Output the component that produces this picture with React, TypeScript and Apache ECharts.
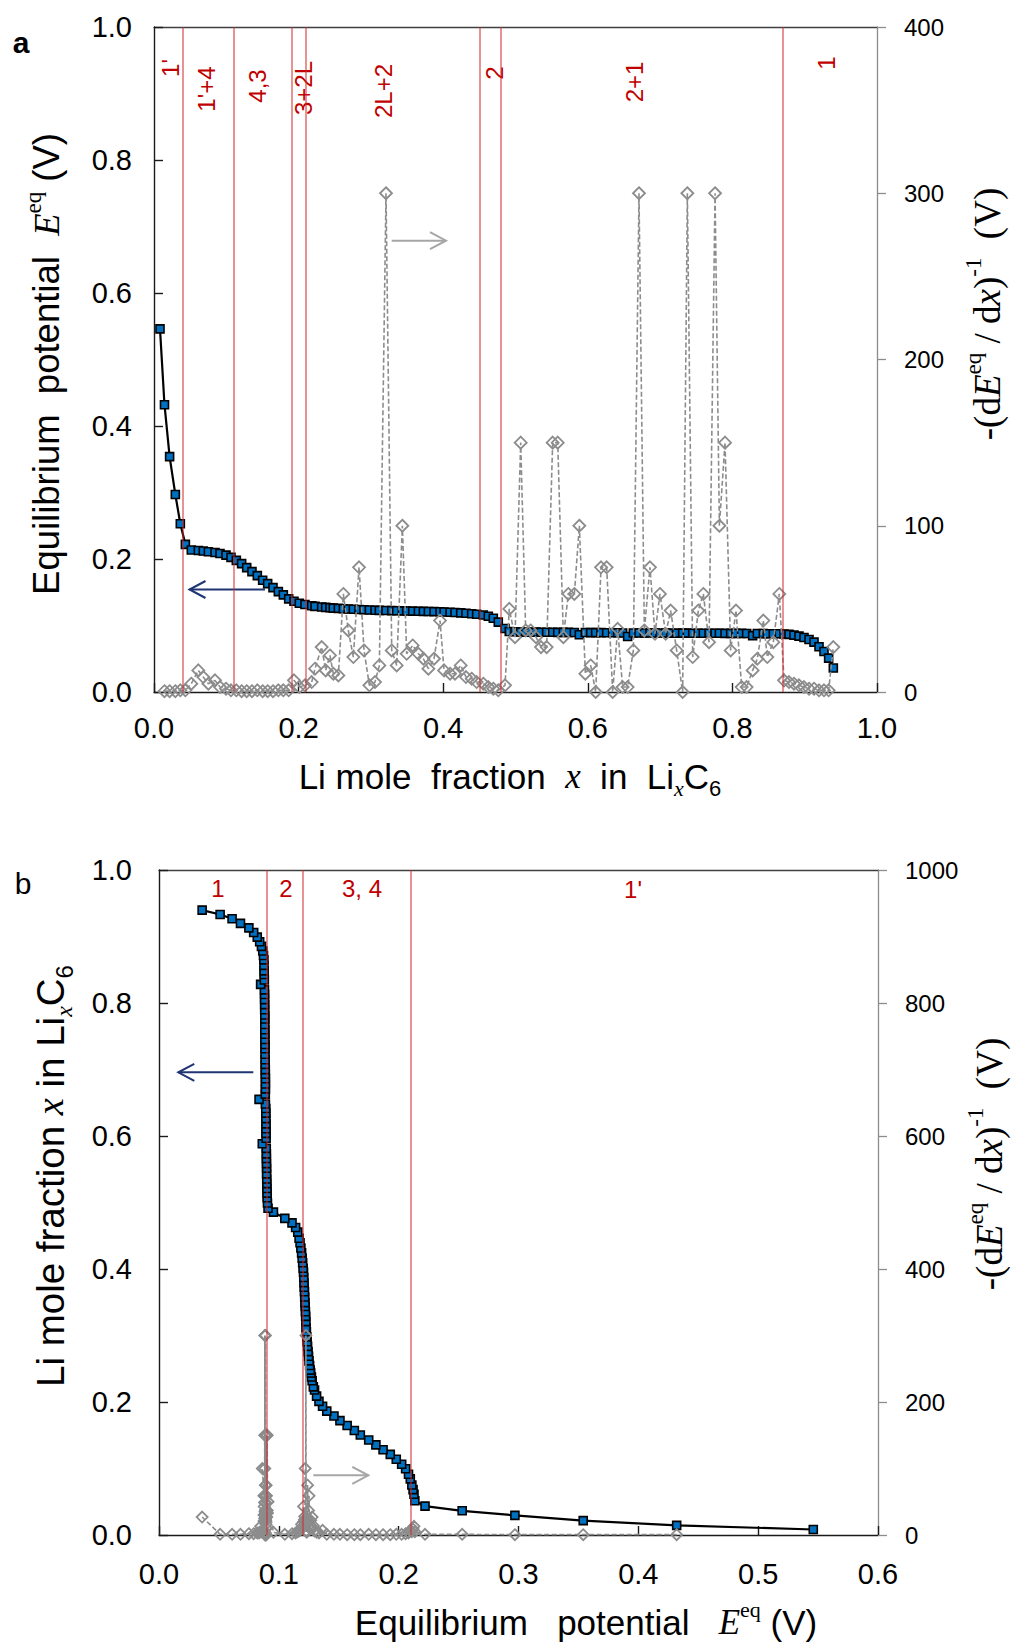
import React, { useEffect, useRef } from 'react';
import * as echarts from 'echarts';

// Li mole fraction x in LixC6 for each equilibrium point
const moleFraction = [
  0.0083, 0.0145, 0.0216, 0.0295, 0.0364, 0.0434, 0.0516, 0.0613, 0.0682, 0.0752,
  0.0844, 0.0913, 0.0996, 0.1065, 0.1139, 0.1212, 0.1282, 0.1355, 0.1429, 0.1503,
  0.1572, 0.1646, 0.1720, 0.1789, 0.1863, 0.1936, 0.2010, 0.2088, 0.2181, 0.2227,
  0.2319, 0.2375, 0.2434, 0.2480, 0.2550, 0.2619, 0.2688, 0.2757, 0.2836, 0.2905,
  0.2979, 0.3057, 0.3117, 0.3209, 0.3288, 0.3357, 0.3435, 0.3495, 0.3578, 0.3657,
  0.3726, 0.3795, 0.3873, 0.3956, 0.4012, 0.4095, 0.4163, 0.4242, 0.4315, 0.4394,
  0.4463, 0.4555, 0.4624, 0.4693, 0.4762, 0.4855, 0.4914, 0.4993, 0.5072, 0.5141,
  0.5210, 0.5284, 0.5353, 0.5431, 0.5514, 0.5584, 0.5662, 0.5731, 0.5814, 0.5883,
  0.5966, 0.6040, 0.6109, 0.6183, 0.6261, 0.6344, 0.6413, 0.6482, 0.6551, 0.6630,
  0.6708, 0.6782, 0.6860, 0.6929, 0.6998, 0.7077, 0.7146, 0.7229, 0.7312, 0.7377,
  0.7451, 0.7529, 0.7598, 0.7677, 0.7760, 0.7820, 0.7898, 0.7976, 0.8050, 0.8128,
  0.8197, 0.8280, 0.8345, 0.8428, 0.8483, 0.8566, 0.8649, 0.8714, 0.8783, 0.8852,
  0.8921, 0.8990, 0.9060, 0.9129, 0.9198, 0.9267, 0.9331, 0.9396,
];

// Equilibrium potential E_eq (V) at each mole fraction
const eqPotential = [
  0.546, 0.432, 0.354, 0.297, 0.253, 0.222, 0.2135, 0.2128, 0.2120, 0.2110,
  0.2097, 0.2082, 0.2058, 0.2025, 0.1980, 0.1930, 0.1870, 0.1810, 0.1750, 0.1680,
  0.1630, 0.1570, 0.1510, 0.1460, 0.1400, 0.1365, 0.1335, 0.1315, 0.1298, 0.1288,
  0.1278, 0.1272, 0.1266, 0.1262, 0.1257, 0.1252, 0.1248, 0.1244, 0.1240, 0.1236,
  0.1233, 0.1230, 0.1227, 0.1226, 0.1224, 0.1222, 0.1220, 0.1218, 0.1216, 0.1214,
  0.1212, 0.1210, 0.1208, 0.1206, 0.1203, 0.1199, 0.1195, 0.1190, 0.1184, 0.1177,
  0.1169, 0.1158, 0.1140, 0.1110, 0.1050, 0.0955, 0.0910, 0.0905, 0.0903, 0.0902,
  0.0901, 0.0900, 0.0899, 0.0898, 0.0898, 0.0897, 0.0896, 0.0896, 0.0895, 0.0862,
  0.0894, 0.0893, 0.0893, 0.0893, 0.0892, 0.0892, 0.0891, 0.0888, 0.0835, 0.0887,
  0.0888, 0.0888, 0.0888, 0.0887, 0.0887, 0.0886, 0.0886, 0.0885, 0.0885, 0.0885,
  0.0884, 0.0884, 0.0883, 0.0883, 0.0883, 0.0883, 0.0882, 0.0882, 0.0881, 0.0881,
  0.0880, 0.0848, 0.0879, 0.0878, 0.0877, 0.0876, 0.0875, 0.0872, 0.0866, 0.0855,
  0.0840, 0.0820, 0.0790, 0.0750, 0.0680, 0.0610, 0.0510, 0.0360,
];

// -(dE_eq/dx)^-1 (V), one value per interval, assigned to points 1..n-1
const inverseSlope = [
  0.5, 0.5, 0.5, 1, 1, 5, 13, 9, 5, 7,
  3, 2, 1, 1, 0.5, 0.5, 0.5, 1, 0.5, 0.5,
  0.5, 1, 1, 1, 7, 3, 4, 6, 14, 27,
  13, 22, 11, 10, 59, 37, 21, 75, 25, 4,
  6, 16, 300, 25, 16, 100, 23, 28, 23, 20,
  14, 20, 43, 13, 11, 11, 16, 9, 8, 6,
  5, 3, 2, 1, 4, 50, 33, 150, 37, 37,
  33, 27, 27, 150, 150, 33, 59, 59, 100, 11,
  16, 0, 75, 75, 0, 38, 3, 3, 25, 300,
  37, 75, 35, 59, 35, 49, 25, 0, 300, 21,
  49, 59, 30, 300, 100, 150, 25, 49, 3, 3,
  13, 20, 43, 21, 30, 59, 7, 6, 5, 4,
  3, 2, 2, 1, 1, 1, 27,
];

// Stage boundaries: in x (panel a) and in E_eq (panel b)
const boundariesX = [0.041, 0.107, 0.193, 0.2125, 0.453, 0.482, 0.873];
const boundariesE = [0.0874, 0.1215, 0.2092];

const stageNamesA = ["1'", "1'+4", '4,3', '3+2L', '2L+2', '2', '2+1', '1'];
const stageNamesB = ['1', '2', '3, 4', "1'"];

// layout of the stage names (pixel centres)
const stageNamePosA = [
  [170, 68], [206, 89], [257, 86], [303, 88], [383, 91], [494, 73], [634, 82], [826, 63],
];
const stageNamePosB = [[218, 888], [286, 888], [362, 888], [633, 889]];

const SANS = 'Liberation Sans';
const SERIF = 'Liberation Serif';
const RED_LINE = 'rgba(210, 40, 40, 0.5)';
const RED_TEXT = '#c00000';
const NAVY = '#1f3473';
const GREY = '#8c8c8c';
const ARROW_GREY = '#a6a6a6';

const richStyles = (size: number) => {
  const small = Math.round(size * 0.62);
  const lh = Math.round(size * 1.35);
  return {
    t: { fontFamily: SANS, fontSize: size, lineHeight: lh, fill: '#000' },
    r: { fontFamily: SERIF, fontSize: size, lineHeight: lh, fill: '#000' },
    e: { fontFamily: SERIF, fontStyle: 'italic', fontSize: size, lineHeight: lh, fill: '#000' },
    sup: { fontFamily: SERIF, fontSize: small, lineHeight: small, verticalAlign: 'top', fill: '#000' },
    sub: { fontFamily: SANS, fontSize: small, lineHeight: small, verticalAlign: 'bottom', fill: '#000' },
    subi: { fontFamily: SERIF, fontStyle: 'italic', fontSize: small, lineHeight: small, verticalAlign: 'bottom', fill: '#000' },
  };
};

const titleText = (text: string, x: number, y: number, size: number, rotate: boolean) => ({
  type: 'text',
  x,
  y,
  rotation: rotate ? Math.PI / 2 : 0,
  silent: true,
  style: { text, rich: richStyles(size), align: 'center', verticalAlign: 'middle' },
});

const arrow = (x1: number, x2: number, y: number, color: string) => {
  const dir = x2 > x1 ? 1 : -1;
  return [
    { type: 'line', silent: true, shape: { x1, y1: y, x2, y2: y }, style: { stroke: color, lineWidth: 2 } },
    {
      type: 'polyline',
      silent: true,
      shape: { points: [[x2 - dir * 16, y - 8.5], [x2, y], [x2 - dir * 16, y + 8.5]] },
      style: { stroke: color, lineWidth: 2, fill: 'none' },
    },
  ];
};

const fmt1 = (v: number) => v.toFixed(1);

const leftAxis = (gridIndex: number, margin: number) => ({
  type: 'value', gridIndex, min: 0, max: 1, interval: 0.2, position: 'left',
  axisLine: { show: true, onZero: false, lineStyle: { color: '#1a1a1a', width: 1.4 } },
  axisTick: { show: true, inside: true, length: 9, lineStyle: { color: '#1a1a1a', width: 1.4 } },
  axisLabel: { formatter: fmt1, fontFamily: SANS, fontSize: 29, color: '#000', margin },
  splitLine: { show: false },
});

const rightAxis = (gridIndex: number, max: number, interval: number) => ({
  type: 'value', gridIndex, min: 0, max, interval, position: 'right',
  axisLine: { show: true, onZero: false, lineStyle: { color: '#8c8c8c', width: 1.3 } },
  axisTick: { show: true, inside: false, length: 9, lineStyle: { color: '#8c8c8c', width: 1.3 } },
  axisLabel: { formatter: (v: number) => String(v), fontFamily: SANS, fontSize: 24, color: '#000', margin: 27 },
  splitLine: { show: false },
});

const bottomAxis = (gridIndex: number, max: number, interval: number, margin: number) => ({
  type: 'value', gridIndex, min: 0, max, interval, position: 'bottom',
  axisLine: { show: true, onZero: false, lineStyle: { color: '#1a1a1a', width: 1.4 } },
  axisTick: { show: true, inside: true, length: 9, lineStyle: { color: '#1a1a1a', width: 1.4 } },
  axisLabel: { formatter: fmt1, fontFamily: SANS, fontSize: 29, color: '#000', margin },
  splitLine: { show: false },
});

const topBorder = (gridIndex: number, max: number) => ({
  type: 'value', gridIndex, min: 0, max, position: 'top',
  axisLine: { show: true, onZero: false, lineStyle: { color: '#404040', width: 1.3 } },
  axisTick: { show: false },
  axisLabel: { show: false },
  splitLine: { show: false },
});

const squareSeries = (xAxisIndex: number, yAxisIndex: number, data: number[][]) => ({
  type: 'line', xAxisIndex, yAxisIndex, data, z: 3,
  symbol: 'rect', symbolSize: 8,
  itemStyle: { color: '#0070c0', borderColor: '#000', borderWidth: 1.6 },
  lineStyle: { color: '#000', width: 2.2 },
});

const diamondSeries = (xAxisIndex: number, yAxisIndex: number, data: number[][], size: number) => ({
  type: 'line', xAxisIndex, yAxisIndex, data, z: 4,
  symbol: 'diamond', symbolSize: size,
  itemStyle: { color: 'rgba(255,255,255,0)', borderColor: GREY, borderWidth: 1.8 },
  lineStyle: { color: GREY, width: 1.6, type: [5, 2.5] },
});

const boundarySeries = (xAxisIndex: number, yAxisIndex: number, values: number[]) => ({
  type: 'line', xAxisIndex, yAxisIndex, data: [], z: 6, silent: true,
  markLine: {
    silent: true,
    symbol: ['none', 'none'],
    label: { show: false },
    lineStyle: { color: RED_LINE, width: 2, type: 'solid' },
    data: values.map((v) => ({ xAxis: v })),
  },
});

export default function App() {
  const ref = useRef<HTMLDivElement>(null);

  useEffect(() => {
    document.body.style.margin = '0';
    const chart = echarts.init(ref.current!, null, { renderer: 'svg' });

    const curveA = moleFraction.map((x, i) => [x, eqPotential[i]]);
    const slopeA = inverseSlope.map((d, i) => [moleFraction[i + 1], d]);
    const curveB = eqPotential.map((e, i) => [e, moleFraction[i]]);
    const slopeB = inverseSlope.map((d, i) => [eqPotential[i + 1], d]);

    const stageTextA = stageNamesA.map((name, i) => ({
      type: 'text', silent: true,
      x: stageNamePosA[i][0], y: stageNamePosA[i][1], rotation: Math.PI / 2,
      style: { text: name, fill: RED_TEXT, fontFamily: SANS, fontSize: 24, align: 'center', verticalAlign: 'middle' },
    }));
    const stageTextB = stageNamesB.map((name, i) => ({
      type: 'text', silent: true,
      x: stageNamePosB[i][0], y: stageNamePosB[i][1],
      style: { text: name, fill: RED_TEXT, fontFamily: SANS, fontSize: 24, align: 'center', verticalAlign: 'middle' },
    }));

    const option: any = {
      animation: false,
      backgroundColor: '#fff',
      grid: [
        { left: 154, top: 27, width: 723, height: 665 },
        { left: 159, top: 870, width: 719, height: 665 },
      ],
      xAxis: [
        bottomAxis(0, 1, 0.2, 21),
        topBorder(0, 1),
        bottomAxis(1, 0.6, 0.1, 24),
        topBorder(1, 0.6),
      ],
      yAxis: [
        leftAxis(0, 22),
        rightAxis(0, 400, 100),
        leftAxis(1, 27),
        rightAxis(1, 1000, 200),
      ],
      series: [
        squareSeries(0, 0, curveA),
        diamondSeries(0, 1, slopeA, 12),
        boundarySeries(0, 0, boundariesX),
        squareSeries(2, 2, curveB),
        diamondSeries(2, 3, slopeB, 11),
        boundarySeries(2, 2, boundariesE),
      ],
      graphic: [
        { type: 'text', silent: true, x: 21, y: 42, style: { text: 'a', fill: '#000', fontFamily: SANS, fontWeight: 'bold', fontSize: 30, align: 'center', verticalAlign: 'middle' } },
        { type: 'text', silent: true, x: 23, y: 883, style: { text: 'b', fill: '#000', fontFamily: SANS, fontSize: 30, align: 'center', verticalAlign: 'middle' } },
        titleText('{t|Equilibrium  potential  }{e|E}{sup|eq}{t| (V)}', 46, 364, 36.5, true),
        titleText('{r|-(d}{e|E}{sup|eq}{r| / d}{e|x}{r|)}{sup|-1}{r|  (V)}', 987, 314, 37, true),
        titleText('{t|Li mole  fraction  }{e|x}{t|  in  Li}{subi|x}{t|C}{sub|6}', 510, 776, 35, false),
        titleText('{t|Li mole fraction }{e|x}{t| in Li}{subi|x}{t|C}{sub|6}', 50, 1176, 38.5, true),
        titleText('{r|-(d}{e|E}{sup|eq}{r| / d}{e|x}{r|)}{sup|-1}{r|  (V)}', 989, 1164, 37, true),
        titleText('{t|Equilibrium   potential   }{e|E}{sup|eq}{t| (V)}', 586, 1622, 35, false),
        ...stageTextA,
        ...stageTextB,
        ...arrow(265, 189.5, 589.5, NAVY),
        ...arrow(391.7, 446, 240.7, ARROW_GREY),
        ...arrow(253.3, 178.3, 1072.3, NAVY),
        ...arrow(313.3, 368.3, 1475.3, ARROW_GREY),
      ],
    };

    chart.setOption(option);
    return () => chart.dispose();
  }, []);

  return <div ref={ref} style={{ width: 1011, height: 1644, background: '#fff' }} />;
}
